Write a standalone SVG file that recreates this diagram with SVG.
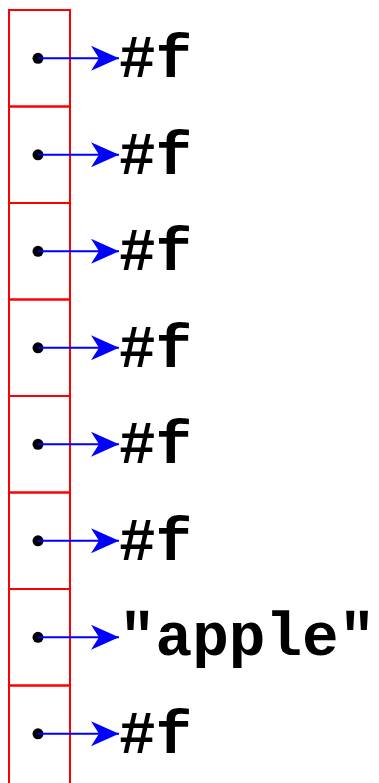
<svg xmlns="http://www.w3.org/2000/svg" width="379" height="783" viewBox="0 0 379 783">
<style>
.cell{fill:none;stroke:#ff0000;stroke-width:2}
.dot{fill:#000}
.ln{stroke:#0000ff;stroke-width:2;fill:none}
.t{font-family:"Liberation Mono","Courier New",monospace;font-weight:bold;font-size:61px;fill:#000}
</style>
<defs>
<marker id="ah" markerUnits="userSpaceOnUse" markerWidth="30" markerHeight="28" refX="28" refY="13" orient="auto">
<path d="M0,0.5 L28,13 L0,25.5 L8,13 Z" fill="#0000ff"/>
</marker>
</defs>
<g id="vector">
<rect class="cell" x="9" y="10" width="61" height="96.5"/>
<rect class="cell" x="9" y="106.5" width="61" height="96.5"/>
<rect class="cell" x="9" y="203" width="61" height="96.5"/>
<rect class="cell" x="9" y="299.5" width="61" height="96.5"/>
<rect class="cell" x="9" y="396" width="61" height="96.5"/>
<rect class="cell" x="9" y="492.5" width="61" height="96.5"/>
<rect class="cell" x="9" y="589" width="61" height="96.5"/>
<rect class="cell" x="9" y="685.5" width="61" height="100"/>
<circle class="dot" cx="38" cy="58.3" r="5.5"/>
<circle class="dot" cx="38" cy="154.8" r="5.5"/>
<circle class="dot" cx="38" cy="251.3" r="5.5"/>
<circle class="dot" cx="38" cy="347.8" r="5.5"/>
<circle class="dot" cx="38" cy="444.3" r="5.5"/>
<circle class="dot" cx="38" cy="540.8" r="5.5"/>
<circle class="dot" cx="38" cy="637.3" r="5.5"/>
<circle class="dot" cx="38" cy="733.8" r="5.5"/>
</g>
<g id="connectors">
<line class="ln" x1="38" y1="58.3" x2="119" y2="58.3" marker-end="url(#ah)"/>
<line class="ln" x1="38" y1="154.8" x2="119" y2="154.8" marker-end="url(#ah)"/>
<line class="ln" x1="38" y1="251.3" x2="119" y2="251.3" marker-end="url(#ah)"/>
<line class="ln" x1="38" y1="347.8" x2="119" y2="347.8" marker-end="url(#ah)"/>
<line class="ln" x1="38" y1="444.3" x2="119" y2="444.3" marker-end="url(#ah)"/>
<line class="ln" x1="38" y1="540.8" x2="119" y2="540.8" marker-end="url(#ah)"/>
<line class="ln" x1="38" y1="637.3" x2="119" y2="637.3" marker-end="url(#ah)"/>
<line class="ln" x1="38" y1="733.8" x2="119" y2="733.8" marker-end="url(#ah)"/>
</g>
<g id="v0"><text class="t" x="119" y="77">#f</text></g>
<g id="v1"><text class="t" x="119" y="173.5">#f</text></g>
<g id="v2"><text class="t" x="119" y="270">#f</text></g>
<g id="v3"><text class="t" x="119" y="366.5">#f</text></g>
<g id="v4"><text class="t" x="119" y="463">#f</text></g>
<g id="v5"><text class="t" x="119" y="559.5">#f</text></g>
<g id="v6"><text class="t" x="119" y="655">"apple"</text></g>
<g id="v7"><text class="t" x="119" y="752.5">#f</text></g>
</svg>
